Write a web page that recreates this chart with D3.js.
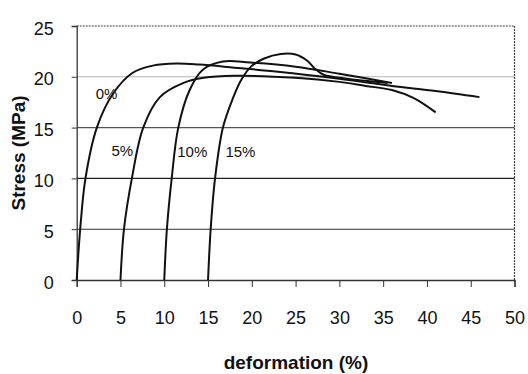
<!DOCTYPE html>
<html>
<head>
<meta charset="utf-8">
<script src="https://cdn.jsdelivr.net/npm/d3@7"></script>
<style>
  html, body { margin: 0; padding: 0; background: #fff; }
  svg { display: block; }
  .num { font-family: "Liberation Sans Narrow", "Arial Narrow", "Liberation Sans", sans-serif; fill: #111; }
  .ttl { font-family: "Liberation Sans", Arial, sans-serif; font-weight: bold; fill: #111; }
</style>
</head>
<body>
<div id="chart"></div>
<script>
// strain (%) / stress (MPa) pairs
const series0 = [[0, 0], [0.4, 5], [1.0, 10], [2.3, 15], [4.2, 18.4], [6.4, 20.4], [8.7, 21.1],
  [11.4, 21.3], [14, 21.2], [18, 20.9], [23, 20.5], [30, 19.8], [36, 19.1], [41, 18.6], [46, 18.0]];
const series5 = [[5, 0], [5.4, 5], [6.3, 10], [7.6, 15], [9.5, 18.0], [12.2, 19.4], [14.5, 19.9],
  [18, 20.1], [25, 19.9], [30, 19.5], [33, 19.1], [36, 18.7], [38.5, 17.9], [41, 16.5]];
const series10 = [[10, 0], [10.3, 5], [10.85, 10], [11.6, 15], [12.9, 18.7], [14.4, 20.7], [16.7, 21.5],
  [19.8, 21.4], [25, 21.0], [30, 20.3], [36, 19.4]];
const series15 = [[15, 0], [15.3, 5], [15.8, 10], [16.7, 15], [17.8, 17.8], [18.8, 19.7], [19.9, 21.0],
  [21.4, 21.8], [23.3, 22.25], [25, 22.2], [26.3, 21.6], [27.2, 20.8], [28.2, 20.2], [30, 19.9],
  [33, 19.6], [35.5, 19.4]];

const curves = [series0, series5, series10, series15];
const curveLabels = ["0%", "5%", "10%", "15%"];
const labelAt = [[3.4, 18.3], [5.2, 12.7], [13.2, 12.6], [18.7, 12.6]];

const xTicks = [0, 5, 10, 15, 20, 25, 30, 35, 40, 45, 50];
const yTicks = [0, 5, 10, 15, 20, 25];

(function draw() {
    const WIDTH = 528;
    const HEIGHT = 374;

    const svg = d3.select("#chart").append("svg")
        .attr("width", WIDTH)
        .attr("height", HEIGHT);

    const x = d3.scaleLinear().domain([0, 50]).range([76.7, 514.5]);
    const y = d3.scaleLinear().domain([0, 25]).range([280, 26]);

    // horizontal grid lines
    const gridColor = {5: "#333", 10: "#222", 15: "#555", 20: "#b5b5b5"};
    svg.append("g").selectAll("line")
        .data(yTicks.filter(d => d > 0 && d < 25))
        .join("line")
        .attr("x1", x(0)).attr("x2", x(50))
        .attr("y1", d => y(d)).attr("y2", d => y(d))
        .attr("stroke", d => gridColor[d])
        .attr("stroke-width", 1.1);

    // top and right frame (dotted, like the scan)
    svg.append("line")
        .attr("x1", x(0)).attr("x2", x(50)).attr("y1", y(25)).attr("y2", y(25))
        .attr("stroke", "#444").attr("stroke-width", 1.2).attr("stroke-dasharray", "2,1");
    svg.append("line")
        .attr("x1", x(50)).attr("x2", x(50)).attr("y1", y(25)).attr("y2", y(0))
        .attr("stroke", "#444").attr("stroke-width", 1.2).attr("stroke-dasharray", "2,1");

    // axes
    const xAxis = svg.append("g")
        .attr("transform", `translate(0,${y(0)})`)
        .call(d3.axisBottom(x).tickValues(xTicks).tickSize(7).tickPadding(24).tickFormat(d3.format("d")));
    const yAxis = svg.append("g")
        .attr("transform", `translate(${x(0)},0)`)
        .call(d3.axisLeft(y).tickValues(yTicks).tickSize(5).tickPadding(18).tickFormat(d3.format("d")));

    [xAxis, yAxis].forEach(g => {
        g.select(".domain").attr("stroke", "#333").attr("stroke-width", 1.3);
        g.selectAll(".tick line").attr("stroke", "#333");
        g.selectAll("text")
            .attr("class", "num")
            .attr("fill", "#111")
            .style("font-size", "18px");
    });
    yAxis.selectAll("text").attr("dy", "0.45em");

    // curves
    const line = d3.line()
        .x(d => x(d[0]))
        .y(d => y(d[1]))
        .curve(d3.curveCatmullRom.alpha(0.5));

    svg.append("g").selectAll("path")
        .data(curves)
        .join("path")
        .attr("d", line)
        .attr("fill", "none")
        .attr("stroke", "#111")
        .attr("stroke-width", 2);

    svg.append("g").selectAll("text")
        .data(curveLabels)
        .join("text")
        .attr("class", "num")
        .attr("x", (d, i) => x(labelAt[i][0]))
        .attr("y", (d, i) => y(labelAt[i][1]))
        .attr("dy", "0.35em")
        .attr("text-anchor", "middle")
        .style("font-size", "15px")
        .text(d => d);

    // axis titles
    svg.append("text")
        .attr("class", "ttl")
        .attr("x", 296)
        .attr("y", 369)
        .attr("text-anchor", "middle")
        .style("font-size", "19px")
        .text("deformation (%)");

    svg.append("text")
        .attr("class", "ttl")
        .attr("transform", "translate(25,153) rotate(-90)")
        .attr("text-anchor", "middle")
        .style("font-size", "19px")
        .text("Stress (MPa)");
})();
</script>
</body>
</html>
